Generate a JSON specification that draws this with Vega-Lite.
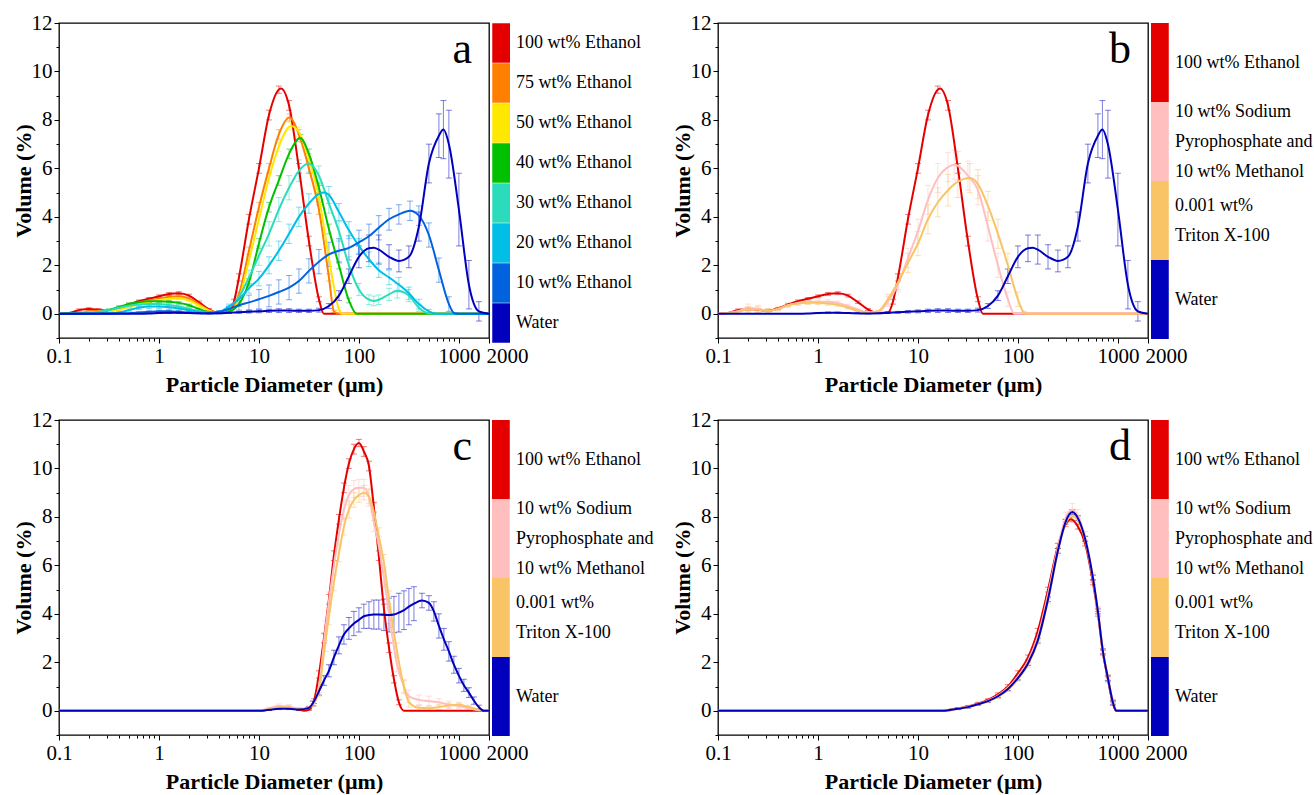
{
"$schema": "https://vega.github.io/schema/vega-lite/v6.json",
"padding": {"left": 11, "top": 11, "right": 2, "bottom": 2},
"background": "white",
"config": {
 "font": "Liberation Serif",
 "view": {"stroke": "#000", "strokeWidth": 1.3},
 "title": {"orient": "top", "anchor": "end", "frame": "group", "offset": -60, "baseline": "alphabetic", "dx": -17, "fontSize": 44, "font": "Liberation Serif", "fontWeight": "normal", "color": "#000"},
 "axis": {"domain": false, "grid": false, "tickColor": "#000", "tickWidth": 1, "labelColor": "#000", "labelFontSize": 21, "labelFont": "Liberation Serif", "titleFont": "Liberation Serif", "titleFontSize": 22, "titleFontWeight": "bold", "titleColor": "#000", "labelPadding": 2}
},
"bounds": "flush",
"columns": 2,
"spacing": {"row": 82, "column": 229},
"resolve": {"scale": {"x": "independent", "y": "independent", "color": "independent", "fill": "independent"}, "legend": {"fill": "independent"}},
"data": {"values": [
{"p":"a","s":"100 wt% Ethanol","x":0.1,"y":0},
{"p":"a","s":"100 wt% Ethanol","x":0.126,"y":0.03,"e":0.02},
{"p":"a","s":"100 wt% Ethanol","x":0.158,"y":0.15,"e":0.05},
{"p":"a","s":"100 wt% Ethanol","x":0.2,"y":0.2,"e":0.05},
{"p":"a","s":"100 wt% Ethanol","x":0.251,"y":0.17,"e":0.04},
{"p":"a","s":"100 wt% Ethanol","x":0.316,"y":0.12,"e":0.03},
{"p":"a","s":"100 wt% Ethanol","x":0.398,"y":0.22,"e":0.04},
{"p":"a","s":"100 wt% Ethanol","x":0.501,"y":0.38,"e":0.05},
{"p":"a","s":"100 wt% Ethanol","x":0.631,"y":0.52,"e":0.05},
{"p":"a","s":"100 wt% Ethanol","x":0.794,"y":0.62,"e":0.05},
{"p":"a","s":"100 wt% Ethanol","x":1,"y":0.72,"e":0.06},
{"p":"a","s":"100 wt% Ethanol","x":1.26,"y":0.82,"e":0.06},
{"p":"a","s":"100 wt% Ethanol","x":1.58,"y":0.85,"e":0.06},
{"p":"a","s":"100 wt% Ethanol","x":2,"y":0.75,"e":0.06},
{"p":"a","s":"100 wt% Ethanol","x":2.51,"y":0.48,"e":0.05},
{"p":"a","s":"100 wt% Ethanol","x":3.16,"y":0.18,"e":0.04},
{"p":"a","s":"100 wt% Ethanol","x":3.98,"y":0.03,"e":0.02},
{"p":"a","s":"100 wt% Ethanol","x":5.01,"y":0.05,"e":0.03},
{"p":"a","s":"100 wt% Ethanol","x":5.62,"y":0.5,"e":0.1},
{"p":"a","s":"100 wt% Ethanol","x":6.31,"y":1.5,"e":0.15},
{"p":"a","s":"100 wt% Ethanol","x":7.94,"y":3.9,"e":0.2},
{"p":"a","s":"100 wt% Ethanol","x":10,"y":6,"e":0.2},
{"p":"a","s":"100 wt% Ethanol","x":12.6,"y":8.2,"e":0.2},
{"p":"a","s":"100 wt% Ethanol","x":15.8,"y":9.25,"e":0.15},
{"p":"a","s":"100 wt% Ethanol","x":16.6,"y":9.3},
{"p":"a","s":"100 wt% Ethanol","x":20,"y":8.6,"e":0.2},
{"p":"a","s":"100 wt% Ethanol","x":25.1,"y":6,"e":0.2},
{"p":"a","s":"100 wt% Ethanol","x":31.6,"y":3,"e":0.2},
{"p":"a","s":"100 wt% Ethanol","x":39.8,"y":0.6,"e":0.1},
{"p":"a","s":"100 wt% Ethanol","x":44.7,"y":0},
{"p":"a","s":"100 wt% Ethanol","x":2000,"y":0},
{"p":"a","s":"75 wt% Ethanol","x":0.1,"y":0},
{"p":"a","s":"75 wt% Ethanol","x":0.158,"y":0.02},
{"p":"a","s":"75 wt% Ethanol","x":0.2,"y":0.1,"e":0.04},
{"p":"a","s":"75 wt% Ethanol","x":0.251,"y":0.12,"e":0.04},
{"p":"a","s":"75 wt% Ethanol","x":0.316,"y":0.12,"e":0.04},
{"p":"a","s":"75 wt% Ethanol","x":0.398,"y":0.2,"e":0.04},
{"p":"a","s":"75 wt% Ethanol","x":0.501,"y":0.33,"e":0.05},
{"p":"a","s":"75 wt% Ethanol","x":0.631,"y":0.45,"e":0.05},
{"p":"a","s":"75 wt% Ethanol","x":0.794,"y":0.55,"e":0.05},
{"p":"a","s":"75 wt% Ethanol","x":1,"y":0.62,"e":0.06},
{"p":"a","s":"75 wt% Ethanol","x":1.26,"y":0.7,"e":0.06},
{"p":"a","s":"75 wt% Ethanol","x":1.58,"y":0.72,"e":0.06},
{"p":"a","s":"75 wt% Ethanol","x":2,"y":0.62,"e":0.06},
{"p":"a","s":"75 wt% Ethanol","x":2.51,"y":0.4,"e":0.05},
{"p":"a","s":"75 wt% Ethanol","x":3.16,"y":0.15,"e":0.04},
{"p":"a","s":"75 wt% Ethanol","x":3.98,"y":0.03,"e":0.02},
{"p":"a","s":"75 wt% Ethanol","x":5.01,"y":0.06,"e":0.03},
{"p":"a","s":"75 wt% Ethanol","x":6.31,"y":0.8,"e":0.1},
{"p":"a","s":"75 wt% Ethanol","x":7.94,"y":2.6,"e":0.15},
{"p":"a","s":"75 wt% Ethanol","x":10,"y":4.4,"e":0.2},
{"p":"a","s":"75 wt% Ethanol","x":12.6,"y":6,"e":0.2},
{"p":"a","s":"75 wt% Ethanol","x":15.8,"y":7.4,"e":0.2},
{"p":"a","s":"75 wt% Ethanol","x":20.2,"y":8.1,"e":0.15},
{"p":"a","s":"75 wt% Ethanol","x":25.1,"y":7.4,"e":0.2},
{"p":"a","s":"75 wt% Ethanol","x":31.6,"y":6,"e":0.2},
{"p":"a","s":"75 wt% Ethanol","x":39.8,"y":4.3,"e":0.2},
{"p":"a","s":"75 wt% Ethanol","x":50.1,"y":1.5,"e":0.15},
{"p":"a","s":"75 wt% Ethanol","x":56.2,"y":0.1,"e":0.05},
{"p":"a","s":"75 wt% Ethanol","x":63.1,"y":0},
{"p":"a","s":"75 wt% Ethanol","x":2000,"y":0},
{"p":"a","s":"50 wt% Ethanol","x":0.1,"y":0},
{"p":"a","s":"50 wt% Ethanol","x":0.2,"y":0.05},
{"p":"a","s":"50 wt% Ethanol","x":0.251,"y":0.08,"e":0.03},
{"p":"a","s":"50 wt% Ethanol","x":0.316,"y":0.1,"e":0.03},
{"p":"a","s":"50 wt% Ethanol","x":0.398,"y":0.17,"e":0.04},
{"p":"a","s":"50 wt% Ethanol","x":0.501,"y":0.28,"e":0.04},
{"p":"a","s":"50 wt% Ethanol","x":0.631,"y":0.4,"e":0.05},
{"p":"a","s":"50 wt% Ethanol","x":0.794,"y":0.5,"e":0.05},
{"p":"a","s":"50 wt% Ethanol","x":1,"y":0.57,"e":0.05},
{"p":"a","s":"50 wt% Ethanol","x":1.26,"y":0.62,"e":0.05},
{"p":"a","s":"50 wt% Ethanol","x":1.58,"y":0.63,"e":0.05},
{"p":"a","s":"50 wt% Ethanol","x":2,"y":0.55,"e":0.05},
{"p":"a","s":"50 wt% Ethanol","x":2.51,"y":0.35,"e":0.05},
{"p":"a","s":"50 wt% Ethanol","x":3.16,"y":0.13,"e":0.04},
{"p":"a","s":"50 wt% Ethanol","x":3.98,"y":0.03,"e":0.02},
{"p":"a","s":"50 wt% Ethanol","x":5.01,"y":0.05,"e":0.03},
{"p":"a","s":"50 wt% Ethanol","x":6.31,"y":0.6,"e":0.1},
{"p":"a","s":"50 wt% Ethanol","x":7.94,"y":2.2,"e":0.15},
{"p":"a","s":"50 wt% Ethanol","x":10,"y":3.9,"e":0.2},
{"p":"a","s":"50 wt% Ethanol","x":12.6,"y":5.6,"e":0.2},
{"p":"a","s":"50 wt% Ethanol","x":15.8,"y":6.9,"e":0.2},
{"p":"a","s":"50 wt% Ethanol","x":20.9,"y":7.75,"e":0.15},
{"p":"a","s":"50 wt% Ethanol","x":25.1,"y":7.5,"e":0.2},
{"p":"a","s":"50 wt% Ethanol","x":31.6,"y":6.4,"e":0.2},
{"p":"a","s":"50 wt% Ethanol","x":39.8,"y":4.8,"e":0.2},
{"p":"a","s":"50 wt% Ethanol","x":50.1,"y":2.3,"e":0.15},
{"p":"a","s":"50 wt% Ethanol","x":63.1,"y":0.2,"e":0.05},
{"p":"a","s":"50 wt% Ethanol","x":67,"y":0},
{"p":"a","s":"50 wt% Ethanol","x":2000,"y":0},
{"p":"a","s":"40 wt% Ethanol","x":0.1,"y":0},
{"p":"a","s":"40 wt% Ethanol","x":0.251,"y":0.05},
{"p":"a","s":"40 wt% Ethanol","x":0.316,"y":0.15,"e":0.04},
{"p":"a","s":"40 wt% Ethanol","x":0.398,"y":0.28,"e":0.05},
{"p":"a","s":"40 wt% Ethanol","x":0.501,"y":0.4,"e":0.05},
{"p":"a","s":"40 wt% Ethanol","x":0.631,"y":0.48,"e":0.05},
{"p":"a","s":"40 wt% Ethanol","x":0.794,"y":0.52,"e":0.05},
{"p":"a","s":"40 wt% Ethanol","x":1,"y":0.52,"e":0.05},
{"p":"a","s":"40 wt% Ethanol","x":1.26,"y":0.5,"e":0.05},
{"p":"a","s":"40 wt% Ethanol","x":1.58,"y":0.45,"e":0.05},
{"p":"a","s":"40 wt% Ethanol","x":2,"y":0.35,"e":0.05},
{"p":"a","s":"40 wt% Ethanol","x":2.51,"y":0.2,"e":0.04},
{"p":"a","s":"40 wt% Ethanol","x":3.16,"y":0.07,"e":0.03},
{"p":"a","s":"40 wt% Ethanol","x":3.98,"y":0.04,"e":0.02},
{"p":"a","s":"40 wt% Ethanol","x":5.01,"y":0.1,"e":0.04},
{"p":"a","s":"40 wt% Ethanol","x":6.31,"y":0.4,"e":0.1},
{"p":"a","s":"40 wt% Ethanol","x":7.94,"y":1.3,"e":0.15},
{"p":"a","s":"40 wt% Ethanol","x":10,"y":2.9,"e":0.2},
{"p":"a","s":"40 wt% Ethanol","x":12.6,"y":4.4,"e":0.2},
{"p":"a","s":"40 wt% Ethanol","x":15.8,"y":5.5,"e":0.2},
{"p":"a","s":"40 wt% Ethanol","x":20,"y":6.6,"e":0.2},
{"p":"a","s":"40 wt% Ethanol","x":25.9,"y":7.25,"e":0.15},
{"p":"a","s":"40 wt% Ethanol","x":31.6,"y":6.6,"e":0.2},
{"p":"a","s":"40 wt% Ethanol","x":39.8,"y":5.2,"e":0.2},
{"p":"a","s":"40 wt% Ethanol","x":50.1,"y":3.5,"e":0.2},
{"p":"a","s":"40 wt% Ethanol","x":63.1,"y":2,"e":0.15},
{"p":"a","s":"40 wt% Ethanol","x":79.4,"y":0.55,"e":0.1},
{"p":"a","s":"40 wt% Ethanol","x":95,"y":0},
{"p":"a","s":"40 wt% Ethanol","x":2000,"y":0},
{"p":"a","s":"30 wt% Ethanol","x":0.1,"y":0},
{"p":"a","s":"30 wt% Ethanol","x":0.2,"y":0.02},
{"p":"a","s":"30 wt% Ethanol","x":0.251,"y":0.08,"e":0.04},
{"p":"a","s":"30 wt% Ethanol","x":0.316,"y":0.15,"e":0.05},
{"p":"a","s":"30 wt% Ethanol","x":0.398,"y":0.25,"e":0.06},
{"p":"a","s":"30 wt% Ethanol","x":0.501,"y":0.33,"e":0.07},
{"p":"a","s":"30 wt% Ethanol","x":0.631,"y":0.38,"e":0.08},
{"p":"a","s":"30 wt% Ethanol","x":0.794,"y":0.4,"e":0.08},
{"p":"a","s":"30 wt% Ethanol","x":1,"y":0.4,"e":0.08},
{"p":"a","s":"30 wt% Ethanol","x":1.26,"y":0.36,"e":0.08},
{"p":"a","s":"30 wt% Ethanol","x":1.58,"y":0.3,"e":0.07},
{"p":"a","s":"30 wt% Ethanol","x":2,"y":0.2,"e":0.06},
{"p":"a","s":"30 wt% Ethanol","x":2.51,"y":0.11,"e":0.05},
{"p":"a","s":"30 wt% Ethanol","x":3.16,"y":0.05,"e":0.03},
{"p":"a","s":"30 wt% Ethanol","x":3.98,"y":0.06,"e":0.03},
{"p":"a","s":"30 wt% Ethanol","x":5.01,"y":0.25,"e":0.08},
{"p":"a","s":"30 wt% Ethanol","x":6.31,"y":0.7,"e":0.15},
{"p":"a","s":"30 wt% Ethanol","x":7.94,"y":1.5,"e":0.3},
{"p":"a","s":"30 wt% Ethanol","x":10,"y":2.4,"e":0.4},
{"p":"a","s":"30 wt% Ethanol","x":12.6,"y":3.3,"e":0.5},
{"p":"a","s":"30 wt% Ethanol","x":15.8,"y":4.3,"e":0.5},
{"p":"a","s":"30 wt% Ethanol","x":20,"y":5.2,"e":0.5},
{"p":"a","s":"30 wt% Ethanol","x":25.1,"y":5.9,"e":0.45},
{"p":"a","s":"30 wt% Ethanol","x":31.3,"y":6.2,"e":0.4},
{"p":"a","s":"30 wt% Ethanol","x":39.8,"y":5.7,"e":0.4},
{"p":"a","s":"30 wt% Ethanol","x":50.1,"y":4.55,"e":0.4},
{"p":"a","s":"30 wt% Ethanol","x":63.1,"y":3.4,"e":0.4},
{"p":"a","s":"30 wt% Ethanol","x":79.4,"y":2,"e":0.35},
{"p":"a","s":"30 wt% Ethanol","x":100,"y":1,"e":0.25},
{"p":"a","s":"30 wt% Ethanol","x":126,"y":0.58,"e":0.2},
{"p":"a","s":"30 wt% Ethanol","x":141,"y":0.53,"e":0.2},
{"p":"a","s":"30 wt% Ethanol","x":158,"y":0.58,"e":0.2},
{"p":"a","s":"30 wt% Ethanol","x":200,"y":0.8,"e":0.25},
{"p":"a","s":"30 wt% Ethanol","x":242,"y":0.95,"e":0.3},
{"p":"a","s":"30 wt% Ethanol","x":316,"y":0.75,"e":0.25},
{"p":"a","s":"30 wt% Ethanol","x":398,"y":0.25,"e":0.15},
{"p":"a","s":"30 wt% Ethanol","x":501,"y":0.02,"e":0.03},
{"p":"a","s":"30 wt% Ethanol","x":631,"y":0},
{"p":"a","s":"30 wt% Ethanol","x":2000,"y":0},
{"p":"a","s":"20 wt% Ethanol","x":0.1,"y":0},
{"p":"a","s":"20 wt% Ethanol","x":0.316,"y":0.01},
{"p":"a","s":"20 wt% Ethanol","x":0.398,"y":0.05,"e":0.03},
{"p":"a","s":"20 wt% Ethanol","x":0.501,"y":0.15,"e":0.05},
{"p":"a","s":"20 wt% Ethanol","x":0.631,"y":0.25,"e":0.07},
{"p":"a","s":"20 wt% Ethanol","x":0.794,"y":0.3,"e":0.08},
{"p":"a","s":"20 wt% Ethanol","x":1,"y":0.3,"e":0.08},
{"p":"a","s":"20 wt% Ethanol","x":1.26,"y":0.27,"e":0.08},
{"p":"a","s":"20 wt% Ethanol","x":1.58,"y":0.22,"e":0.07},
{"p":"a","s":"20 wt% Ethanol","x":2,"y":0.15,"e":0.06},
{"p":"a","s":"20 wt% Ethanol","x":2.51,"y":0.08,"e":0.04},
{"p":"a","s":"20 wt% Ethanol","x":3.16,"y":0.04,"e":0.03},
{"p":"a","s":"20 wt% Ethanol","x":3.98,"y":0.08,"e":0.04},
{"p":"a","s":"20 wt% Ethanol","x":5.01,"y":0.3,"e":0.1},
{"p":"a","s":"20 wt% Ethanol","x":6.31,"y":0.6,"e":0.15},
{"p":"a","s":"20 wt% Ethanol","x":7.94,"y":1.05,"e":0.2},
{"p":"a","s":"20 wt% Ethanol","x":10,"y":1.45,"e":0.3},
{"p":"a","s":"20 wt% Ethanol","x":12.6,"y":2,"e":0.35},
{"p":"a","s":"20 wt% Ethanol","x":15.8,"y":2.6,"e":0.4},
{"p":"a","s":"20 wt% Ethanol","x":20,"y":3.3,"e":0.4},
{"p":"a","s":"20 wt% Ethanol","x":25.1,"y":4,"e":0.4},
{"p":"a","s":"20 wt% Ethanol","x":31.6,"y":4.55,"e":0.4},
{"p":"a","s":"20 wt% Ethanol","x":39.8,"y":4.95,"e":0.35},
{"p":"a","s":"20 wt% Ethanol","x":45,"y":5},
{"p":"a","s":"20 wt% Ethanol","x":50.1,"y":4.9,"e":0.35},
{"p":"a","s":"20 wt% Ethanol","x":63.1,"y":4.2,"e":0.35},
{"p":"a","s":"20 wt% Ethanol","x":79.4,"y":3.45,"e":0.35},
{"p":"a","s":"20 wt% Ethanol","x":100,"y":2.8,"e":0.3},
{"p":"a","s":"20 wt% Ethanol","x":126,"y":2.25,"e":0.3},
{"p":"a","s":"20 wt% Ethanol","x":158,"y":1.8,"e":0.3},
{"p":"a","s":"20 wt% Ethanol","x":200,"y":1.5,"e":0.3},
{"p":"a","s":"20 wt% Ethanol","x":251,"y":1.2,"e":0.3},
{"p":"a","s":"20 wt% Ethanol","x":316,"y":0.85,"e":0.25},
{"p":"a","s":"20 wt% Ethanol","x":398,"y":0.4,"e":0.2},
{"p":"a","s":"20 wt% Ethanol","x":501,"y":0.1,"e":0.08},
{"p":"a","s":"20 wt% Ethanol","x":600,"y":0},
{"p":"a","s":"20 wt% Ethanol","x":2000,"y":0},
{"p":"a","s":"10 wt% Ethanol","x":0.1,"y":0},
{"p":"a","s":"10 wt% Ethanol","x":0.501,"y":0.02},
{"p":"a","s":"10 wt% Ethanol","x":0.631,"y":0.05,"e":0.03},
{"p":"a","s":"10 wt% Ethanol","x":0.794,"y":0.08,"e":0.04},
{"p":"a","s":"10 wt% Ethanol","x":1,"y":0.1,"e":0.05},
{"p":"a","s":"10 wt% Ethanol","x":1.26,"y":0.1,"e":0.05},
{"p":"a","s":"10 wt% Ethanol","x":1.58,"y":0.08,"e":0.04},
{"p":"a","s":"10 wt% Ethanol","x":2,"y":0.05,"e":0.03},
{"p":"a","s":"10 wt% Ethanol","x":2.51,"y":0.03,"e":0.02},
{"p":"a","s":"10 wt% Ethanol","x":3.16,"y":0.03,"e":0.02},
{"p":"a","s":"10 wt% Ethanol","x":3.98,"y":0.08,"e":0.04},
{"p":"a","s":"10 wt% Ethanol","x":5.01,"y":0.2,"e":0.1},
{"p":"a","s":"10 wt% Ethanol","x":6.31,"y":0.35,"e":0.2},
{"p":"a","s":"10 wt% Ethanol","x":7.94,"y":0.47,"e":0.3},
{"p":"a","s":"10 wt% Ethanol","x":10,"y":0.6,"e":0.4},
{"p":"a","s":"10 wt% Ethanol","x":12.6,"y":0.74,"e":0.45},
{"p":"a","s":"10 wt% Ethanol","x":15.8,"y":0.9,"e":0.5},
{"p":"a","s":"10 wt% Ethanol","x":20,"y":1.08,"e":0.5},
{"p":"a","s":"10 wt% Ethanol","x":25.1,"y":1.35,"e":0.5},
{"p":"a","s":"10 wt% Ethanol","x":31.6,"y":1.77,"e":0.5},
{"p":"a","s":"10 wt% Ethanol","x":39.8,"y":2.15,"e":0.5},
{"p":"a","s":"10 wt% Ethanol","x":50.1,"y":2.45,"e":0.5},
{"p":"a","s":"10 wt% Ethanol","x":63.1,"y":2.6,"e":0.5},
{"p":"a","s":"10 wt% Ethanol","x":79.4,"y":2.72,"e":0.5},
{"p":"a","s":"10 wt% Ethanol","x":100,"y":2.95,"e":0.5},
{"p":"a","s":"10 wt% Ethanol","x":126,"y":3.2,"e":0.5},
{"p":"a","s":"10 wt% Ethanol","x":158,"y":3.55,"e":0.5},
{"p":"a","s":"10 wt% Ethanol","x":200,"y":3.9,"e":0.45},
{"p":"a","s":"10 wt% Ethanol","x":251,"y":4.1,"e":0.4},
{"p":"a","s":"10 wt% Ethanol","x":324,"y":4.25,"e":0.4},
{"p":"a","s":"10 wt% Ethanol","x":398,"y":4.05,"e":0.4},
{"p":"a","s":"10 wt% Ethanol","x":501,"y":3.25,"e":0.5},
{"p":"a","s":"10 wt% Ethanol","x":631,"y":1.8,"e":0.5},
{"p":"a","s":"10 wt% Ethanol","x":794,"y":0.4,"e":0.3},
{"p":"a","s":"10 wt% Ethanol","x":900,"y":0.02},
{"p":"a","s":"10 wt% Ethanol","x":1000,"y":0},
{"p":"a","s":"10 wt% Ethanol","x":2000,"y":0},
{"p":"a","s":"Water","x":0.1,"y":0},
{"p":"a","s":"Water","x":0.631,"y":0},
{"p":"a","s":"Water","x":0.794,"y":0.01},
{"p":"a","s":"Water","x":1,"y":0.03,"e":0.02},
{"p":"a","s":"Water","x":1.26,"y":0.04,"e":0.03},
{"p":"a","s":"Water","x":1.58,"y":0.04,"e":0.03},
{"p":"a","s":"Water","x":2,"y":0.03,"e":0.02},
{"p":"a","s":"Water","x":2.51,"y":0.02,"e":0.02},
{"p":"a","s":"Water","x":3.16,"y":0.01,"e":0.02},
{"p":"a","s":"Water","x":3.98,"y":0.02,"e":0.02},
{"p":"a","s":"Water","x":5.01,"y":0.04,"e":0.03},
{"p":"a","s":"Water","x":6.31,"y":0.06,"e":0.04},
{"p":"a","s":"Water","x":7.94,"y":0.08,"e":0.05},
{"p":"a","s":"Water","x":10,"y":0.1,"e":0.06},
{"p":"a","s":"Water","x":12.6,"y":0.12,"e":0.07},
{"p":"a","s":"Water","x":15.8,"y":0.13,"e":0.08},
{"p":"a","s":"Water","x":20,"y":0.13,"e":0.08},
{"p":"a","s":"Water","x":25.1,"y":0.12,"e":0.07},
{"p":"a","s":"Water","x":31.6,"y":0.12,"e":0.07},
{"p":"a","s":"Water","x":39.8,"y":0.15,"e":0.08},
{"p":"a","s":"Water","x":50.1,"y":0.32,"e":0.1},
{"p":"a","s":"Water","x":63.1,"y":0.75,"e":0.2},
{"p":"a","s":"Water","x":79.4,"y":1.55,"e":0.3},
{"p":"a","s":"Water","x":100,"y":2.35,"e":0.45},
{"p":"a","s":"Water","x":126,"y":2.7,"e":0.55},
{"p":"a","s":"Water","x":140,"y":2.72},
{"p":"a","s":"Water","x":158,"y":2.65,"e":0.6},
{"p":"a","s":"Water","x":200,"y":2.35,"e":0.5},
{"p":"a","s":"Water","x":251,"y":2.18,"e":0.45},
{"p":"a","s":"Water","x":316,"y":2.35,"e":0.45},
{"p":"a","s":"Water","x":398,"y":3.6,"e":0.6},
{"p":"a","s":"Water","x":501,"y":6.2,"e":0.8},
{"p":"a","s":"Water","x":631,"y":7.35,"e":0.9},
{"p":"a","s":"Water","x":700,"y":7.6,"e":1.2},
{"p":"a","s":"Water","x":794,"y":7,"e":1.4},
{"p":"a","s":"Water","x":1000,"y":4.3,"e":1.5},
{"p":"a","s":"Water","x":1259,"y":1.2,"e":1},
{"p":"a","s":"Water","x":1585,"y":0.1,"e":0.4},
{"p":"a","s":"Water","x":2000,"y":0},

{"p":"b","s":"100 wt% Ethanol","x":0.1,"y":0},
{"p":"b","s":"100 wt% Ethanol","x":0.126,"y":0.03,"e":0.02},
{"p":"b","s":"100 wt% Ethanol","x":0.158,"y":0.15,"e":0.05},
{"p":"b","s":"100 wt% Ethanol","x":0.2,"y":0.2,"e":0.05},
{"p":"b","s":"100 wt% Ethanol","x":0.251,"y":0.17,"e":0.04},
{"p":"b","s":"100 wt% Ethanol","x":0.316,"y":0.12,"e":0.03},
{"p":"b","s":"100 wt% Ethanol","x":0.398,"y":0.22,"e":0.04},
{"p":"b","s":"100 wt% Ethanol","x":0.501,"y":0.38,"e":0.05},
{"p":"b","s":"100 wt% Ethanol","x":0.631,"y":0.52,"e":0.05},
{"p":"b","s":"100 wt% Ethanol","x":0.794,"y":0.62,"e":0.05},
{"p":"b","s":"100 wt% Ethanol","x":1,"y":0.72,"e":0.06},
{"p":"b","s":"100 wt% Ethanol","x":1.26,"y":0.82,"e":0.06},
{"p":"b","s":"100 wt% Ethanol","x":1.58,"y":0.85,"e":0.06},
{"p":"b","s":"100 wt% Ethanol","x":2,"y":0.75,"e":0.06},
{"p":"b","s":"100 wt% Ethanol","x":2.51,"y":0.48,"e":0.05},
{"p":"b","s":"100 wt% Ethanol","x":3.16,"y":0.18,"e":0.04},
{"p":"b","s":"100 wt% Ethanol","x":3.98,"y":0.03,"e":0.02},
{"p":"b","s":"100 wt% Ethanol","x":5.01,"y":0.05,"e":0.03},
{"p":"b","s":"100 wt% Ethanol","x":5.62,"y":0.5,"e":0.1},
{"p":"b","s":"100 wt% Ethanol","x":6.31,"y":1.5,"e":0.15},
{"p":"b","s":"100 wt% Ethanol","x":7.94,"y":3.9,"e":0.2},
{"p":"b","s":"100 wt% Ethanol","x":10,"y":6,"e":0.2},
{"p":"b","s":"100 wt% Ethanol","x":12.6,"y":8.2,"e":0.2},
{"p":"b","s":"100 wt% Ethanol","x":15.8,"y":9.25,"e":0.15},
{"p":"b","s":"100 wt% Ethanol","x":16.6,"y":9.3},
{"p":"b","s":"100 wt% Ethanol","x":20,"y":8.6,"e":0.2},
{"p":"b","s":"100 wt% Ethanol","x":25.1,"y":6,"e":0.2},
{"p":"b","s":"100 wt% Ethanol","x":31.6,"y":3,"e":0.2},
{"p":"b","s":"100 wt% Ethanol","x":39.8,"y":0.6,"e":0.1},
{"p":"b","s":"100 wt% Ethanol","x":44.7,"y":0},
{"p":"b","s":"100 wt% Ethanol","x":2000,"y":0},
{"p":"b","s":"10 wt% Sodium Pyrophosphate and 10 wt% Methanol","x":0.1,"y":0},
{"p":"b","s":"10 wt% Sodium Pyrophosphate and 10 wt% Methanol","x":0.158,"y":0.1,"e":0.1},
{"p":"b","s":"10 wt% Sodium Pyrophosphate and 10 wt% Methanol","x":0.2,"y":0.25,"e":0.15},
{"p":"b","s":"10 wt% Sodium Pyrophosphate and 10 wt% Methanol","x":0.251,"y":0.2,"e":0.15},
{"p":"b","s":"10 wt% Sodium Pyrophosphate and 10 wt% Methanol","x":0.316,"y":0.12,"e":0.1},
{"p":"b","s":"10 wt% Sodium Pyrophosphate and 10 wt% Methanol","x":0.398,"y":0.2,"e":0.08},
{"p":"b","s":"10 wt% Sodium Pyrophosphate and 10 wt% Methanol","x":0.501,"y":0.35,"e":0.08},
{"p":"b","s":"10 wt% Sodium Pyrophosphate and 10 wt% Methanol","x":0.631,"y":0.45,"e":0.08},
{"p":"b","s":"10 wt% Sodium Pyrophosphate and 10 wt% Methanol","x":0.794,"y":0.5,"e":0.08},
{"p":"b","s":"10 wt% Sodium Pyrophosphate and 10 wt% Methanol","x":1,"y":0.5,"e":0.08},
{"p":"b","s":"10 wt% Sodium Pyrophosphate and 10 wt% Methanol","x":1.26,"y":0.5,"e":0.08},
{"p":"b","s":"10 wt% Sodium Pyrophosphate and 10 wt% Methanol","x":1.58,"y":0.45,"e":0.08},
{"p":"b","s":"10 wt% Sodium Pyrophosphate and 10 wt% Methanol","x":2,"y":0.32,"e":0.07},
{"p":"b","s":"10 wt% Sodium Pyrophosphate and 10 wt% Methanol","x":2.51,"y":0.17,"e":0.05},
{"p":"b","s":"10 wt% Sodium Pyrophosphate and 10 wt% Methanol","x":3.16,"y":0.05,"e":0.04},
{"p":"b","s":"10 wt% Sodium Pyrophosphate and 10 wt% Methanol","x":3.98,"y":0.08,"e":0.05},
{"p":"b","s":"10 wt% Sodium Pyrophosphate and 10 wt% Methanol","x":5.01,"y":0.5,"e":0.2},
{"p":"b","s":"10 wt% Sodium Pyrophosphate and 10 wt% Methanol","x":6.31,"y":1.2,"e":0.3},
{"p":"b","s":"10 wt% Sodium Pyrophosphate and 10 wt% Methanol","x":7.94,"y":2.3,"e":0.4},
{"p":"b","s":"10 wt% Sodium Pyrophosphate and 10 wt% Methanol","x":10,"y":3.4,"e":0.5},
{"p":"b","s":"10 wt% Sodium Pyrophosphate and 10 wt% Methanol","x":12.6,"y":4.7,"e":0.6},
{"p":"b","s":"10 wt% Sodium Pyrophosphate and 10 wt% Methanol","x":15.8,"y":5.6,"e":0.6},
{"p":"b","s":"10 wt% Sodium Pyrophosphate and 10 wt% Methanol","x":20,"y":6.05,"e":0.6},
{"p":"b","s":"10 wt% Sodium Pyrophosphate and 10 wt% Methanol","x":23,"y":6.15,"e":0.6},
{"p":"b","s":"10 wt% Sodium Pyrophosphate and 10 wt% Methanol","x":25.1,"y":6.1,"e":0.6},
{"p":"b","s":"10 wt% Sodium Pyrophosphate and 10 wt% Methanol","x":31.6,"y":5.7,"e":0.6},
{"p":"b","s":"10 wt% Sodium Pyrophosphate and 10 wt% Methanol","x":39.8,"y":5.1,"e":0.6},
{"p":"b","s":"10 wt% Sodium Pyrophosphate and 10 wt% Methanol","x":50.1,"y":3.6,"e":0.6},
{"p":"b","s":"10 wt% Sodium Pyrophosphate and 10 wt% Methanol","x":63.1,"y":2,"e":0.5},
{"p":"b","s":"10 wt% Sodium Pyrophosphate and 10 wt% Methanol","x":79.4,"y":0.6,"e":0.3},
{"p":"b","s":"10 wt% Sodium Pyrophosphate and 10 wt% Methanol","x":92,"y":0},
{"p":"b","s":"10 wt% Sodium Pyrophosphate and 10 wt% Methanol","x":2000,"y":0},
{"p":"b","s":"0.001 wt% Triton X-100","x":0.1,"y":0},
{"p":"b","s":"0.001 wt% Triton X-100","x":0.158,"y":0.08,"e":0.08},
{"p":"b","s":"0.001 wt% Triton X-100","x":0.2,"y":0.18,"e":0.12},
{"p":"b","s":"0.001 wt% Triton X-100","x":0.251,"y":0.17,"e":0.12},
{"p":"b","s":"0.001 wt% Triton X-100","x":0.316,"y":0.12,"e":0.08},
{"p":"b","s":"0.001 wt% Triton X-100","x":0.398,"y":0.2,"e":0.07},
{"p":"b","s":"0.001 wt% Triton X-100","x":0.501,"y":0.35,"e":0.07},
{"p":"b","s":"0.001 wt% Triton X-100","x":0.631,"y":0.42,"e":0.07},
{"p":"b","s":"0.001 wt% Triton X-100","x":0.794,"y":0.45,"e":0.07},
{"p":"b","s":"0.001 wt% Triton X-100","x":1,"y":0.45,"e":0.07},
{"p":"b","s":"0.001 wt% Triton X-100","x":1.26,"y":0.42,"e":0.07},
{"p":"b","s":"0.001 wt% Triton X-100","x":1.58,"y":0.37,"e":0.06},
{"p":"b","s":"0.001 wt% Triton X-100","x":2,"y":0.25,"e":0.05},
{"p":"b","s":"0.001 wt% Triton X-100","x":2.51,"y":0.12,"e":0.04},
{"p":"b","s":"0.001 wt% Triton X-100","x":3.16,"y":0.04,"e":0.03},
{"p":"b","s":"0.001 wt% Triton X-100","x":3.98,"y":0.1,"e":0.05},
{"p":"b","s":"0.001 wt% Triton X-100","x":5.01,"y":0.6,"e":0.2},
{"p":"b","s":"0.001 wt% Triton X-100","x":6.31,"y":1.3,"e":0.3},
{"p":"b","s":"0.001 wt% Triton X-100","x":7.94,"y":2.1,"e":0.4},
{"p":"b","s":"0.001 wt% Triton X-100","x":10,"y":2.9,"e":0.5},
{"p":"b","s":"0.001 wt% Triton X-100","x":12.6,"y":3.9,"e":0.6},
{"p":"b","s":"0.001 wt% Triton X-100","x":15.8,"y":4.6,"e":0.6},
{"p":"b","s":"0.001 wt% Triton X-100","x":20,"y":5.1,"e":0.65},
{"p":"b","s":"0.001 wt% Triton X-100","x":25.1,"y":5.45,"e":0.65},
{"p":"b","s":"0.001 wt% Triton X-100","x":33,"y":5.6,"e":0.6},
{"p":"b","s":"0.001 wt% Triton X-100","x":39.8,"y":5.35,"e":0.6},
{"p":"b","s":"0.001 wt% Triton X-100","x":50.1,"y":4.45,"e":0.6},
{"p":"b","s":"0.001 wt% Triton X-100","x":63.1,"y":3.3,"e":0.6},
{"p":"b","s":"0.001 wt% Triton X-100","x":79.4,"y":2,"e":0.5},
{"p":"b","s":"0.001 wt% Triton X-100","x":100,"y":0.6,"e":0.3},
{"p":"b","s":"0.001 wt% Triton X-100","x":115,"y":0.05,"e":0.05},
{"p":"b","s":"0.001 wt% Triton X-100","x":126,"y":0},
{"p":"b","s":"0.001 wt% Triton X-100","x":2000,"y":0},
{"p":"b","s":"Water","x":0.1,"y":0},
{"p":"b","s":"Water","x":0.631,"y":0},
{"p":"b","s":"Water","x":0.794,"y":0.01},
{"p":"b","s":"Water","x":1,"y":0.03,"e":0.02},
{"p":"b","s":"Water","x":1.26,"y":0.04,"e":0.03},
{"p":"b","s":"Water","x":1.58,"y":0.04,"e":0.03},
{"p":"b","s":"Water","x":2,"y":0.03,"e":0.02},
{"p":"b","s":"Water","x":2.51,"y":0.02,"e":0.02},
{"p":"b","s":"Water","x":3.16,"y":0.01,"e":0.02},
{"p":"b","s":"Water","x":3.98,"y":0.02,"e":0.02},
{"p":"b","s":"Water","x":5.01,"y":0.04,"e":0.03},
{"p":"b","s":"Water","x":6.31,"y":0.06,"e":0.04},
{"p":"b","s":"Water","x":7.94,"y":0.08,"e":0.05},
{"p":"b","s":"Water","x":10,"y":0.1,"e":0.06},
{"p":"b","s":"Water","x":12.6,"y":0.12,"e":0.07},
{"p":"b","s":"Water","x":15.8,"y":0.13,"e":0.08},
{"p":"b","s":"Water","x":20,"y":0.13,"e":0.08},
{"p":"b","s":"Water","x":25.1,"y":0.12,"e":0.07},
{"p":"b","s":"Water","x":31.6,"y":0.12,"e":0.07},
{"p":"b","s":"Water","x":39.8,"y":0.15,"e":0.08},
{"p":"b","s":"Water","x":50.1,"y":0.32,"e":0.1},
{"p":"b","s":"Water","x":63.1,"y":0.75,"e":0.2},
{"p":"b","s":"Water","x":79.4,"y":1.55,"e":0.3},
{"p":"b","s":"Water","x":100,"y":2.35,"e":0.45},
{"p":"b","s":"Water","x":126,"y":2.7,"e":0.55},
{"p":"b","s":"Water","x":140,"y":2.72},
{"p":"b","s":"Water","x":158,"y":2.65,"e":0.6},
{"p":"b","s":"Water","x":200,"y":2.35,"e":0.5},
{"p":"b","s":"Water","x":251,"y":2.18,"e":0.45},
{"p":"b","s":"Water","x":316,"y":2.35,"e":0.45},
{"p":"b","s":"Water","x":398,"y":3.6,"e":0.6},
{"p":"b","s":"Water","x":501,"y":6.2,"e":0.8},
{"p":"b","s":"Water","x":631,"y":7.35,"e":0.9},
{"p":"b","s":"Water","x":700,"y":7.6,"e":1.2},
{"p":"b","s":"Water","x":794,"y":7,"e":1.4},
{"p":"b","s":"Water","x":1000,"y":4.3,"e":1.5},
{"p":"b","s":"Water","x":1259,"y":1.2,"e":1},
{"p":"b","s":"Water","x":1585,"y":0.1,"e":0.4},
{"p":"b","s":"Water","x":2000,"y":0},

{"p":"c","s":"100 wt% Ethanol","x":0.1,"y":0},
{"p":"c","s":"100 wt% Ethanol","x":10,"y":0},
{"p":"c","s":"100 wt% Ethanol","x":12.6,"y":0.05,"e":0.03},
{"p":"c","s":"100 wt% Ethanol","x":15.8,"y":0.12,"e":0.04},
{"p":"c","s":"100 wt% Ethanol","x":20,"y":0.12,"e":0.04},
{"p":"c","s":"100 wt% Ethanol","x":25.1,"y":0.05,"e":0.03},
{"p":"c","s":"100 wt% Ethanol","x":28.2,"y":0},
{"p":"c","s":"100 wt% Ethanol","x":31.6,"y":0.05,"e":0.04},
{"p":"c","s":"100 wt% Ethanol","x":35.5,"y":0.4,"e":0.1},
{"p":"c","s":"100 wt% Ethanol","x":39.8,"y":1.5,"e":0.15},
{"p":"c","s":"100 wt% Ethanol","x":44.7,"y":3,"e":0.2},
{"p":"c","s":"100 wt% Ethanol","x":50.1,"y":4.6,"e":0.2},
{"p":"c","s":"100 wt% Ethanol","x":56.2,"y":6.4,"e":0.2},
{"p":"c","s":"100 wt% Ethanol","x":63.1,"y":7.9,"e":0.2},
{"p":"c","s":"100 wt% Ethanol","x":70.8,"y":9.2,"e":0.2},
{"p":"c","s":"100 wt% Ethanol","x":79.4,"y":10.2,"e":0.2},
{"p":"c","s":"100 wt% Ethanol","x":89.1,"y":10.8,"e":0.2},
{"p":"c","s":"100 wt% Ethanol","x":100,"y":11.05,"e":0.15},
{"p":"c","s":"100 wt% Ethanol","x":112,"y":10.7,"e":0.2},
{"p":"c","s":"100 wt% Ethanol","x":126,"y":10.1,"e":0.2},
{"p":"c","s":"100 wt% Ethanol","x":141,"y":8.4,"e":0.2},
{"p":"c","s":"100 wt% Ethanol","x":158,"y":6.4,"e":0.2},
{"p":"c","s":"100 wt% Ethanol","x":178,"y":4.2,"e":0.2},
{"p":"c","s":"100 wt% Ethanol","x":200,"y":2.6,"e":0.2},
{"p":"c","s":"100 wt% Ethanol","x":224,"y":1.3,"e":0.15},
{"p":"c","s":"100 wt% Ethanol","x":251,"y":0.35,"e":0.1},
{"p":"c","s":"100 wt% Ethanol","x":282,"y":0},
{"p":"c","s":"100 wt% Ethanol","x":2000,"y":0},
{"p":"c","s":"10 wt% Sodium Pyrophosphate and 10 wt% Methanol","x":0.1,"y":0},
{"p":"c","s":"10 wt% Sodium Pyrophosphate and 10 wt% Methanol","x":10,"y":0},
{"p":"c","s":"10 wt% Sodium Pyrophosphate and 10 wt% Methanol","x":12.6,"y":0.1,"e":0.05},
{"p":"c","s":"10 wt% Sodium Pyrophosphate and 10 wt% Methanol","x":15.8,"y":0.2,"e":0.08},
{"p":"c","s":"10 wt% Sodium Pyrophosphate and 10 wt% Methanol","x":20,"y":0.18,"e":0.08},
{"p":"c","s":"10 wt% Sodium Pyrophosphate and 10 wt% Methanol","x":25.1,"y":0.08,"e":0.05},
{"p":"c","s":"10 wt% Sodium Pyrophosphate and 10 wt% Methanol","x":31.6,"y":0.15,"e":0.08},
{"p":"c","s":"10 wt% Sodium Pyrophosphate and 10 wt% Methanol","x":35.5,"y":0.35,"e":0.15},
{"p":"c","s":"10 wt% Sodium Pyrophosphate and 10 wt% Methanol","x":39.8,"y":1,"e":0.25},
{"p":"c","s":"10 wt% Sodium Pyrophosphate and 10 wt% Methanol","x":46,"y":3.3,"e":0.4},
{"p":"c","s":"10 wt% Sodium Pyrophosphate and 10 wt% Methanol","x":50.1,"y":4.5,"e":0.4},
{"p":"c","s":"10 wt% Sodium Pyrophosphate and 10 wt% Methanol","x":56.2,"y":6,"e":0.4},
{"p":"c","s":"10 wt% Sodium Pyrophosphate and 10 wt% Methanol","x":63.1,"y":7.3,"e":0.4},
{"p":"c","s":"10 wt% Sodium Pyrophosphate and 10 wt% Methanol","x":70.8,"y":8.3,"e":0.4},
{"p":"c","s":"10 wt% Sodium Pyrophosphate and 10 wt% Methanol","x":79.4,"y":8.9,"e":0.4},
{"p":"c","s":"10 wt% Sodium Pyrophosphate and 10 wt% Methanol","x":89.1,"y":9.15,"e":0.35},
{"p":"c","s":"10 wt% Sodium Pyrophosphate and 10 wt% Methanol","x":100,"y":9.2,"e":0.35},
{"p":"c","s":"10 wt% Sodium Pyrophosphate and 10 wt% Methanol","x":112,"y":9.2,"e":0.35},
{"p":"c","s":"10 wt% Sodium Pyrophosphate and 10 wt% Methanol","x":126,"y":8.8,"e":0.35},
{"p":"c","s":"10 wt% Sodium Pyrophosphate and 10 wt% Methanol","x":141,"y":7.8,"e":0.4},
{"p":"c","s":"10 wt% Sodium Pyrophosphate and 10 wt% Methanol","x":158,"y":6.8,"e":0.4},
{"p":"c","s":"10 wt% Sodium Pyrophosphate and 10 wt% Methanol","x":178,"y":5.5,"e":0.4},
{"p":"c","s":"10 wt% Sodium Pyrophosphate and 10 wt% Methanol","x":200,"y":4,"e":0.4},
{"p":"c","s":"10 wt% Sodium Pyrophosphate and 10 wt% Methanol","x":239,"y":1.96,"e":0.35},
{"p":"c","s":"10 wt% Sodium Pyrophosphate and 10 wt% Methanol","x":282,"y":1,"e":0.3},
{"p":"c","s":"10 wt% Sodium Pyrophosphate and 10 wt% Methanol","x":316,"y":0.6,"e":0.25},
{"p":"c","s":"10 wt% Sodium Pyrophosphate and 10 wt% Methanol","x":398,"y":0.45,"e":0.2},
{"p":"c","s":"10 wt% Sodium Pyrophosphate and 10 wt% Methanol","x":501,"y":0.4,"e":0.2},
{"p":"c","s":"10 wt% Sodium Pyrophosphate and 10 wt% Methanol","x":631,"y":0.35,"e":0.15},
{"p":"c","s":"10 wt% Sodium Pyrophosphate and 10 wt% Methanol","x":794,"y":0.25,"e":0.15},
{"p":"c","s":"10 wt% Sodium Pyrophosphate and 10 wt% Methanol","x":1000,"y":0.2,"e":0.1},
{"p":"c","s":"10 wt% Sodium Pyrophosphate and 10 wt% Methanol","x":1259,"y":0.1,"e":0.08},
{"p":"c","s":"10 wt% Sodium Pyrophosphate and 10 wt% Methanol","x":1585,"y":0.02,"e":0.03},
{"p":"c","s":"10 wt% Sodium Pyrophosphate and 10 wt% Methanol","x":2000,"y":0},
{"p":"c","s":"0.001 wt% Triton X-100","x":0.1,"y":0},
{"p":"c","s":"0.001 wt% Triton X-100","x":10,"y":0},
{"p":"c","s":"0.001 wt% Triton X-100","x":12.6,"y":0.07,"e":0.04},
{"p":"c","s":"0.001 wt% Triton X-100","x":15.8,"y":0.15,"e":0.06},
{"p":"c","s":"0.001 wt% Triton X-100","x":20,"y":0.15,"e":0.06},
{"p":"c","s":"0.001 wt% Triton X-100","x":25.1,"y":0.07,"e":0.04},
{"p":"c","s":"0.001 wt% Triton X-100","x":31.6,"y":0.12,"e":0.06},
{"p":"c","s":"0.001 wt% Triton X-100","x":35.5,"y":0.3,"e":0.1},
{"p":"c","s":"0.001 wt% Triton X-100","x":39.8,"y":0.8,"e":0.2},
{"p":"c","s":"0.001 wt% Triton X-100","x":46,"y":2.8,"e":0.35},
{"p":"c","s":"0.001 wt% Triton X-100","x":50.1,"y":3.9,"e":0.35},
{"p":"c","s":"0.001 wt% Triton X-100","x":56.2,"y":5.3,"e":0.35},
{"p":"c","s":"0.001 wt% Triton X-100","x":63.1,"y":6.5,"e":0.35},
{"p":"c","s":"0.001 wt% Triton X-100","x":70.8,"y":7.6,"e":0.35},
{"p":"c","s":"0.001 wt% Triton X-100","x":79.4,"y":8.3,"e":0.35},
{"p":"c","s":"0.001 wt% Triton X-100","x":89.1,"y":8.7,"e":0.3},
{"p":"c","s":"0.001 wt% Triton X-100","x":100,"y":8.9,"e":0.3},
{"p":"c","s":"0.001 wt% Triton X-100","x":112,"y":9,"e":0.3},
{"p":"c","s":"0.001 wt% Triton X-100","x":126,"y":8.85,"e":0.3},
{"p":"c","s":"0.001 wt% Triton X-100","x":141,"y":8.2,"e":0.35},
{"p":"c","s":"0.001 wt% Triton X-100","x":158,"y":7.2,"e":0.35},
{"p":"c","s":"0.001 wt% Triton X-100","x":178,"y":6.1,"e":0.35},
{"p":"c","s":"0.001 wt% Triton X-100","x":200,"y":4.6,"e":0.35},
{"p":"c","s":"0.001 wt% Triton X-100","x":239,"y":2.5,"e":0.3},
{"p":"c","s":"0.001 wt% Triton X-100","x":282,"y":1,"e":0.25},
{"p":"c","s":"0.001 wt% Triton X-100","x":316,"y":0.35,"e":0.2},
{"p":"c","s":"0.001 wt% Triton X-100","x":398,"y":0.12,"e":0.1},
{"p":"c","s":"0.001 wt% Triton X-100","x":501,"y":0.1,"e":0.1},
{"p":"c","s":"0.001 wt% Triton X-100","x":631,"y":0.15,"e":0.1},
{"p":"c","s":"0.001 wt% Triton X-100","x":794,"y":0.22,"e":0.1},
{"p":"c","s":"0.001 wt% Triton X-100","x":1000,"y":0.25,"e":0.1},
{"p":"c","s":"0.001 wt% Triton X-100","x":1259,"y":0.15,"e":0.08},
{"p":"c","s":"0.001 wt% Triton X-100","x":1585,"y":0.05,"e":0.04},
{"p":"c","s":"0.001 wt% Triton X-100","x":2000,"y":0},
{"p":"c","s":"Water","x":0.1,"y":0},
{"p":"c","s":"Water","x":10,"y":0},
{"p":"c","s":"Water","x":12.6,"y":0.04,"e":0.02},
{"p":"c","s":"Water","x":15.8,"y":0.08,"e":0.03},
{"p":"c","s":"Water","x":20,"y":0.08,"e":0.03},
{"p":"c","s":"Water","x":25.1,"y":0.05,"e":0.03},
{"p":"c","s":"Water","x":31.6,"y":0.12,"e":0.05},
{"p":"c","s":"Water","x":34.5,"y":0.3,"e":0.1},
{"p":"c","s":"Water","x":39.8,"y":0.8,"e":0.15},
{"p":"c","s":"Water","x":44.7,"y":1.25,"e":0.2},
{"p":"c","s":"Water","x":50.1,"y":1.65,"e":0.25},
{"p":"c","s":"Water","x":56.2,"y":2.2,"e":0.3},
{"p":"c","s":"Water","x":63.1,"y":2.7,"e":0.35},
{"p":"c","s":"Water","x":70.8,"y":3.15,"e":0.4},
{"p":"c","s":"Water","x":79.4,"y":3.4,"e":0.45},
{"p":"c","s":"Water","x":89.1,"y":3.6,"e":0.5},
{"p":"c","s":"Water","x":100,"y":3.75,"e":0.5},
{"p":"c","s":"Water","x":112,"y":3.9,"e":0.5},
{"p":"c","s":"Water","x":126,"y":3.95,"e":0.55},
{"p":"c","s":"Water","x":141,"y":3.97,"e":0.6},
{"p":"c","s":"Water","x":158,"y":3.97,"e":0.6},
{"p":"c","s":"Water","x":178,"y":3.96,"e":0.65},
{"p":"c","s":"Water","x":200,"y":3.95,"e":0.7},
{"p":"c","s":"Water","x":224,"y":3.97,"e":0.75},
{"p":"c","s":"Water","x":251,"y":4.05,"e":0.8},
{"p":"c","s":"Water","x":282,"y":4.15,"e":0.8},
{"p":"c","s":"Water","x":316,"y":4.3,"e":0.75},
{"p":"c","s":"Water","x":355,"y":4.42,"e":0.7},
{"p":"c","s":"Water","x":427,"y":4.55,"e":0.3},
{"p":"c","s":"Water","x":501,"y":4.45,"e":0.3},
{"p":"c","s":"Water","x":562,"y":4.1,"e":0.4},
{"p":"c","s":"Water","x":631,"y":3.5,"e":0.5},
{"p":"c","s":"Water","x":708,"y":2.95,"e":0.45},
{"p":"c","s":"Water","x":794,"y":2.45,"e":0.4},
{"p":"c","s":"Water","x":891,"y":1.9,"e":0.35},
{"p":"c","s":"Water","x":1000,"y":1.45,"e":0.3},
{"p":"c","s":"Water","x":1122,"y":1.05,"e":0.25},
{"p":"c","s":"Water","x":1259,"y":0.75,"e":0.2},
{"p":"c","s":"Water","x":1413,"y":0.42,"e":0.15},
{"p":"c","s":"Water","x":1585,"y":0.15,"e":0.08},
{"p":"c","s":"Water","x":1778,"y":0},
{"p":"c","s":"Water","x":2000,"y":0},

{"p":"d","s":"100 wt% Ethanol","x":0.1,"y":0},
{"p":"d","s":"100 wt% Ethanol","x":17.8,"y":0},
{"p":"d","s":"100 wt% Ethanol","x":20,"y":0.03,"e":0.02},
{"p":"d","s":"100 wt% Ethanol","x":25.1,"y":0.1,"e":0.03},
{"p":"d","s":"100 wt% Ethanol","x":31.6,"y":0.18,"e":0.04},
{"p":"d","s":"100 wt% Ethanol","x":39.8,"y":0.3,"e":0.05},
{"p":"d","s":"100 wt% Ethanol","x":50.1,"y":0.45,"e":0.05},
{"p":"d","s":"100 wt% Ethanol","x":63.1,"y":0.68,"e":0.06},
{"p":"d","s":"100 wt% Ethanol","x":79.4,"y":1,"e":0.08},
{"p":"d","s":"100 wt% Ethanol","x":100,"y":1.55,"e":0.1},
{"p":"d","s":"100 wt% Ethanol","x":126,"y":2.2,"e":0.1},
{"p":"d","s":"100 wt% Ethanol","x":158,"y":3.3,"e":0.1},
{"p":"d","s":"100 wt% Ethanol","x":200,"y":5,"e":0.1},
{"p":"d","s":"100 wt% Ethanol","x":251,"y":6.8,"e":0.1},
{"p":"d","s":"100 wt% Ethanol","x":300,"y":7.7,"e":0.1},
{"p":"d","s":"100 wt% Ethanol","x":340,"y":7.9,"e":0.1},
{"p":"d","s":"100 wt% Ethanol","x":398,"y":7.6,"e":0.1},
{"p":"d","s":"100 wt% Ethanol","x":470,"y":6.9,"e":0.1},
{"p":"d","s":"100 wt% Ethanol","x":562,"y":5.3,"e":0.1},
{"p":"d","s":"100 wt% Ethanol","x":631,"y":4,"e":0.1},
{"p":"d","s":"100 wt% Ethanol","x":708,"y":2.4,"e":0.1},
{"p":"d","s":"100 wt% Ethanol","x":794,"y":1.3,"e":0.1},
{"p":"d","s":"100 wt% Ethanol","x":891,"y":0.3,"e":0.08},
{"p":"d","s":"100 wt% Ethanol","x":955,"y":0},
{"p":"d","s":"100 wt% Ethanol","x":2000,"y":0},
{"p":"d","s":"10 wt% Sodium Pyrophosphate and 10 wt% Methanol","x":0.1,"y":0},
{"p":"d","s":"10 wt% Sodium Pyrophosphate and 10 wt% Methanol","x":17.8,"y":0},
{"p":"d","s":"10 wt% Sodium Pyrophosphate and 10 wt% Methanol","x":20,"y":0.03,"e":0.03},
{"p":"d","s":"10 wt% Sodium Pyrophosphate and 10 wt% Methanol","x":25.1,"y":0.09,"e":0.04},
{"p":"d","s":"10 wt% Sodium Pyrophosphate and 10 wt% Methanol","x":31.6,"y":0.17,"e":0.05},
{"p":"d","s":"10 wt% Sodium Pyrophosphate and 10 wt% Methanol","x":39.8,"y":0.28,"e":0.06},
{"p":"d","s":"10 wt% Sodium Pyrophosphate and 10 wt% Methanol","x":50.1,"y":0.42,"e":0.07},
{"p":"d","s":"10 wt% Sodium Pyrophosphate and 10 wt% Methanol","x":63.1,"y":0.63,"e":0.08},
{"p":"d","s":"10 wt% Sodium Pyrophosphate and 10 wt% Methanol","x":79.4,"y":0.95,"e":0.1},
{"p":"d","s":"10 wt% Sodium Pyrophosphate and 10 wt% Methanol","x":100,"y":1.42,"e":0.12},
{"p":"d","s":"10 wt% Sodium Pyrophosphate and 10 wt% Methanol","x":126,"y":2.05,"e":0.15},
{"p":"d","s":"10 wt% Sodium Pyrophosphate and 10 wt% Methanol","x":158,"y":3.05,"e":0.15},
{"p":"d","s":"10 wt% Sodium Pyrophosphate and 10 wt% Methanol","x":200,"y":4.8,"e":0.2},
{"p":"d","s":"10 wt% Sodium Pyrophosphate and 10 wt% Methanol","x":251,"y":6.75,"e":0.2},
{"p":"d","s":"10 wt% Sodium Pyrophosphate and 10 wt% Methanol","x":300,"y":7.95,"e":0.25},
{"p":"d","s":"10 wt% Sodium Pyrophosphate and 10 wt% Methanol","x":350,"y":8.3,"e":0.25},
{"p":"d","s":"10 wt% Sodium Pyrophosphate and 10 wt% Methanol","x":398,"y":8.05,"e":0.25},
{"p":"d","s":"10 wt% Sodium Pyrophosphate and 10 wt% Methanol","x":470,"y":7.15,"e":0.25},
{"p":"d","s":"10 wt% Sodium Pyrophosphate and 10 wt% Methanol","x":562,"y":5.5,"e":0.2},
{"p":"d","s":"10 wt% Sodium Pyrophosphate and 10 wt% Methanol","x":631,"y":4.1,"e":0.2},
{"p":"d","s":"10 wt% Sodium Pyrophosphate and 10 wt% Methanol","x":708,"y":2.5,"e":0.2},
{"p":"d","s":"10 wt% Sodium Pyrophosphate and 10 wt% Methanol","x":794,"y":1.35,"e":0.15},
{"p":"d","s":"10 wt% Sodium Pyrophosphate and 10 wt% Methanol","x":891,"y":0.35,"e":0.1},
{"p":"d","s":"10 wt% Sodium Pyrophosphate and 10 wt% Methanol","x":955,"y":0.03},
{"p":"d","s":"10 wt% Sodium Pyrophosphate and 10 wt% Methanol","x":1000,"y":0},
{"p":"d","s":"10 wt% Sodium Pyrophosphate and 10 wt% Methanol","x":2000,"y":0},
{"p":"d","s":"0.001 wt% Triton X-100","x":0.1,"y":0},
{"p":"d","s":"0.001 wt% Triton X-100","x":17.8,"y":0},
{"p":"d","s":"0.001 wt% Triton X-100","x":20,"y":0.02,"e":0.02},
{"p":"d","s":"0.001 wt% Triton X-100","x":25.1,"y":0.08,"e":0.03},
{"p":"d","s":"0.001 wt% Triton X-100","x":31.6,"y":0.15,"e":0.04},
{"p":"d","s":"0.001 wt% Triton X-100","x":39.8,"y":0.26,"e":0.05},
{"p":"d","s":"0.001 wt% Triton X-100","x":50.1,"y":0.38,"e":0.05},
{"p":"d","s":"0.001 wt% Triton X-100","x":63.1,"y":0.57,"e":0.06},
{"p":"d","s":"0.001 wt% Triton X-100","x":79.4,"y":0.86,"e":0.07},
{"p":"d","s":"0.001 wt% Triton X-100","x":100,"y":1.3,"e":0.08},
{"p":"d","s":"0.001 wt% Triton X-100","x":126,"y":1.9,"e":0.1},
{"p":"d","s":"0.001 wt% Triton X-100","x":158,"y":2.85,"e":0.1},
{"p":"d","s":"0.001 wt% Triton X-100","x":200,"y":4.55,"e":0.12},
{"p":"d","s":"0.001 wt% Triton X-100","x":251,"y":6.55,"e":0.15},
{"p":"d","s":"0.001 wt% Triton X-100","x":300,"y":7.75,"e":0.15},
{"p":"d","s":"0.001 wt% Triton X-100","x":350,"y":8.05,"e":0.15},
{"p":"d","s":"0.001 wt% Triton X-100","x":398,"y":7.85,"e":0.15},
{"p":"d","s":"0.001 wt% Triton X-100","x":470,"y":7.05,"e":0.15},
{"p":"d","s":"0.001 wt% Triton X-100","x":562,"y":5.45,"e":0.15},
{"p":"d","s":"0.001 wt% Triton X-100","x":631,"y":4.1,"e":0.15},
{"p":"d","s":"0.001 wt% Triton X-100","x":708,"y":2.45,"e":0.12},
{"p":"d","s":"0.001 wt% Triton X-100","x":794,"y":1.4,"e":0.1},
{"p":"d","s":"0.001 wt% Triton X-100","x":891,"y":0.4,"e":0.08},
{"p":"d","s":"0.001 wt% Triton X-100","x":955,"y":0.05},
{"p":"d","s":"0.001 wt% Triton X-100","x":1000,"y":0},
{"p":"d","s":"0.001 wt% Triton X-100","x":2000,"y":0},
{"p":"d","s":"Water","x":0.1,"y":0},
{"p":"d","s":"Water","x":17.8,"y":0},
{"p":"d","s":"Water","x":20,"y":0.02,"e":0.02},
{"p":"d","s":"Water","x":25.1,"y":0.08,"e":0.03},
{"p":"d","s":"Water","x":31.6,"y":0.15,"e":0.04},
{"p":"d","s":"Water","x":39.8,"y":0.27,"e":0.04},
{"p":"d","s":"Water","x":50.1,"y":0.4,"e":0.05},
{"p":"d","s":"Water","x":63.1,"y":0.6,"e":0.06},
{"p":"d","s":"Water","x":79.4,"y":0.9,"e":0.07},
{"p":"d","s":"Water","x":100,"y":1.35,"e":0.08},
{"p":"d","s":"Water","x":126,"y":1.95,"e":0.08},
{"p":"d","s":"Water","x":158,"y":2.9,"e":0.1},
{"p":"d","s":"Water","x":200,"y":4.6,"e":0.1},
{"p":"d","s":"Water","x":251,"y":6.6,"e":0.1},
{"p":"d","s":"Water","x":300,"y":7.8,"e":0.1},
{"p":"d","s":"Water","x":350,"y":8.2,"e":0.1},
{"p":"d","s":"Water","x":398,"y":7.95,"e":0.1},
{"p":"d","s":"Water","x":470,"y":7.1,"e":0.1},
{"p":"d","s":"Water","x":562,"y":5.5,"e":0.1},
{"p":"d","s":"Water","x":631,"y":4.1,"e":0.1},
{"p":"d","s":"Water","x":708,"y":2.45,"e":0.1},
{"p":"d","s":"Water","x":794,"y":1.35,"e":0.1},
{"p":"d","s":"Water","x":891,"y":0.35,"e":0.08},
{"p":"d","s":"Water","x":955,"y":0.02},
{"p":"d","s":"Water","x":1000,"y":0},
{"p":"d","s":"Water","x":2000,"y":0}
]},
"concat": [
 {
  "title": {"text": "a"},
  "width": 430, "height": 315,
  "encoding": {
   "x": {"field": "x", "type": "quantitative", "scale": {"type": "log", "domain": [0.1, 2000], "nice": false},
     "axis": {"title": "Particle Diameter (µm)", "values": [0.1,0.2,0.3,0.4,0.5,0.6,0.7,0.8,0.9,1,2,3,4,5,6,7,8,9,10,20,30,40,50,60,70,80,90,100,200,300,400,500,600,700,800,900,1000,2000],
       "labelExpr": "indexof([0.1,1,10,100,1000,2000], datum.value) >= 0 ? '' + datum.value : ''",
       "tickSize": {"condition": {"test": "indexof([0.1,1,10,100,1000,2000], datum.value) >= 0", "value": 5}, "value": 3},
       "labelAlign": {"condition": {"test": "datum.value == 2000", "value": "left"}, "value": "center"},
       "labelOffset": {"condition": {"test": "datum.value == 2000", "value": -3}, "value": 0},
       "labelOverlap": false, "labelFlush": false, "labelBound": false, "titlePadding": 8}},
   "y": {"field": "y", "type": "quantitative", "scale": {"domain": [-1, 12], "nice": false, "zero": false},
     "axis": {"title": "Volume (%)", "values": [-1,0,1,2,3,4,5,6,7,8,9,10,11,12],
       "labelExpr": "datum.value % 2 == 0 && datum.value >= 0 ? datum.label : ''",
       "tickSize": {"condition": {"test": "datum.value % 2 == 0", "value": 5}, "value": 3},
       "labelOverlap": false, "titlePadding": -4}}
  },
  "layer": [
   {"transform": [{"filter": "false"}], "mark": {"type": "square", "filled": true},
    "encoding": {"fill": {"field": "s", "type": "nominal",
      "scale": {"domain": ["100 wt% Ethanol","75 wt% Ethanol","50 wt% Ethanol","40 wt% Ethanol","30 wt% Ethanol","20 wt% Ethanol","10 wt% Ethanol","Water"], "range": ["#e50000","#ff7f00","#ffe800","#00c000","#2bdcbc","#00bee6","#0062de","#0000bd"]},
      "legend": {"title": null, "orient": "none", "direction": "vertical", "legendX": 433, "legendY": 0, "symbolType": "M-1,-1H-0.1V1H-1Z", "symbolSize": 1560, "symbolStrokeWidth": 0, "symbolOpacity": 1, "rowPadding": 0, "labelOffset": -16, "labelFontSize": 18, "labelFont": "Liberation Serif", "labelColor": "#000", "labelLimit": 300, "padding": 0}}}},
   {"transform": [{"filter": "datum.p == 'a' && datum.e > 0"}], "mark": {"type": "errorbar", "ticks": true, "size": 6, "thickness": 1, "opacity": 0.5},
    "encoding": {"yError": {"field": "e"}, "color": {"field": "s", "type": "nominal", "legend": null,
      "scale": {"domain": ["100 wt% Ethanol","75 wt% Ethanol","50 wt% Ethanol","40 wt% Ethanol","30 wt% Ethanol","20 wt% Ethanol","10 wt% Ethanol","Water"], "range": ["#e50000","#ff7f00","#ffe800","#00c000","#2bdcbc","#00bee6","#0062de","#0000bd"]}}}},
   {"transform": [{"filter": "datum.p == 'a'"}], "mark": {"type": "line", "interpolate": "monotone", "strokeWidth": 2},
    "encoding": {"color": {"field": "s", "type": "nominal", "legend": null,
      "scale": {"domain": ["100 wt% Ethanol","75 wt% Ethanol","50 wt% Ethanol","40 wt% Ethanol","30 wt% Ethanol","20 wt% Ethanol","10 wt% Ethanol","Water"], "range": ["#e50000","#ff7f00","#ffe800","#00c000","#2bdcbc","#00bee6","#0062de","#0000bd"]}}}}
  ]
 },
 {
  "title": {"text": "b"},
  "width": 430, "height": 315,
  "encoding": {
   "x": {"field": "x", "type": "quantitative", "scale": {"type": "log", "domain": [0.1, 2000], "nice": false},
     "axis": {"title": "Particle Diameter (µm)", "values": [0.1,0.2,0.3,0.4,0.5,0.6,0.7,0.8,0.9,1,2,3,4,5,6,7,8,9,10,20,30,40,50,60,70,80,90,100,200,300,400,500,600,700,800,900,1000,2000],
       "labelExpr": "indexof([0.1,1,10,100,1000,2000], datum.value) >= 0 ? '' + datum.value : ''",
       "tickSize": {"condition": {"test": "indexof([0.1,1,10,100,1000,2000], datum.value) >= 0", "value": 5}, "value": 3},
       "labelAlign": {"condition": {"test": "datum.value == 2000", "value": "left"}, "value": "center"},
       "labelOffset": {"condition": {"test": "datum.value == 2000", "value": -3}, "value": 0},
       "labelOverlap": false, "labelFlush": false, "labelBound": false, "titlePadding": 8}},
   "y": {"field": "y", "type": "quantitative", "scale": {"domain": [-1, 12], "nice": false, "zero": false},
     "axis": {"title": "Volume (%)", "values": [-1,0,1,2,3,4,5,6,7,8,9,10,11,12],
       "labelExpr": "datum.value % 2 == 0 && datum.value >= 0 ? datum.label : ''",
       "tickSize": {"condition": {"test": "datum.value % 2 == 0", "value": 5}, "value": 3},
       "labelOverlap": false, "titlePadding": -4}}
  },
  "layer": [
   {"transform": [{"filter": "false"}], "mark": {"type": "square", "filled": true},
    "encoding": {"fill": {"field": "s", "type": "nominal",
      "scale": {"domain": ["100 wt% Ethanol","10 wt% Sodium Pyrophosphate and 10 wt% Methanol","0.001 wt% Triton X-100","Water"], "range": ["#e50000","#ffbfbf","#f9c466","#0000bd"]},
      "legend": {"title": null, "orient": "none", "direction": "vertical", "legendX": 433, "legendY": 0, "symbolType": "M-1,-1H-0.55V1H-1Z", "symbolSize": 6241, "symbolStrokeWidth": 0, "symbolOpacity": 1, "rowPadding": 0, "labelOffset": -55, "labelFontSize": 18, "labelFont": "Liberation Serif", "labelColor": "#000", "labelLimit": 300, "padding": 0,
        "labelExpr": "datum.value == '10 wt% Sodium Pyrophosphate and 10 wt% Methanol' ? ['10 wt% Sodium', 'Pyrophosphate and', '10 wt% Methanol'] : datum.value == '0.001 wt% Triton X-100' ? ['0.001 wt%', 'Triton X-100'] : datum.label",
        "encode": {"labels": {"update": {"lineHeight": {"value": 30}, "dy": {"signal": "datum.value == '10 wt% Sodium Pyrophosphate and 10 wt% Methanol' ? -30 : datum.value == '0.001 wt% Triton X-100' ? -15 : 0"}}}}}}}},
   {"transform": [{"filter": "datum.p == 'b' && datum.e > 0"}], "mark": {"type": "errorbar", "ticks": true, "size": 6, "thickness": 1, "opacity": 0.5},
    "encoding": {"yError": {"field": "e"}, "color": {"field": "s", "type": "nominal", "legend": null,
      "scale": {"domain": ["100 wt% Ethanol","10 wt% Sodium Pyrophosphate and 10 wt% Methanol","0.001 wt% Triton X-100","Water"], "range": ["#e50000","#ffbfbf","#f9c466","#0000bd"]}}}},
   {"transform": [{"filter": "datum.p == 'b'"}], "mark": {"type": "line", "interpolate": "monotone", "strokeWidth": 2},
    "encoding": {"color": {"field": "s", "type": "nominal", "legend": null,
      "scale": {"domain": ["100 wt% Ethanol","10 wt% Sodium Pyrophosphate and 10 wt% Methanol","0.001 wt% Triton X-100","Water"], "range": ["#e50000","#ffbfbf","#f9c466","#0000bd"]}}}}
  ]
 },
 {
  "title": {"text": "c"},
  "width": 430, "height": 315,
  "encoding": {
   "x": {"field": "x", "type": "quantitative", "scale": {"type": "log", "domain": [0.1, 2000], "nice": false},
     "axis": {"title": "Particle Diameter (µm)", "values": [0.1,0.2,0.3,0.4,0.5,0.6,0.7,0.8,0.9,1,2,3,4,5,6,7,8,9,10,20,30,40,50,60,70,80,90,100,200,300,400,500,600,700,800,900,1000,2000],
       "labelExpr": "indexof([0.1,1,10,100,1000,2000], datum.value) >= 0 ? '' + datum.value : ''",
       "tickSize": {"condition": {"test": "indexof([0.1,1,10,100,1000,2000], datum.value) >= 0", "value": 5}, "value": 3},
       "labelAlign": {"condition": {"test": "datum.value == 2000", "value": "left"}, "value": "center"},
       "labelOffset": {"condition": {"test": "datum.value == 2000", "value": -3}, "value": 0},
       "labelOverlap": false, "labelFlush": false, "labelBound": false, "titlePadding": 8}},
   "y": {"field": "y", "type": "quantitative", "scale": {"domain": [-1, 12], "nice": false, "zero": false},
     "axis": {"title": "Volume (%)", "values": [-1,0,1,2,3,4,5,6,7,8,9,10,11,12],
       "labelExpr": "datum.value % 2 == 0 && datum.value >= 0 ? datum.label : ''",
       "tickSize": {"condition": {"test": "datum.value % 2 == 0", "value": 5}, "value": 3},
       "labelOverlap": false, "titlePadding": -4}}
  },
  "layer": [
   {"transform": [{"filter": "false"}], "mark": {"type": "square", "filled": true},
    "encoding": {"fill": {"field": "s", "type": "nominal",
      "scale": {"domain": ["100 wt% Ethanol","10 wt% Sodium Pyrophosphate and 10 wt% Methanol","0.001 wt% Triton X-100","Water"], "range": ["#e50000","#ffbfbf","#f9c466","#0000bd"]},
      "legend": {"title": null, "orient": "none", "direction": "vertical", "legendX": 433, "legendY": 0, "symbolType": "M-1,-1H-0.55V1H-1Z", "symbolSize": 6241, "symbolStrokeWidth": 0, "symbolOpacity": 1, "rowPadding": 0, "labelOffset": -55, "labelFontSize": 18, "labelFont": "Liberation Serif", "labelColor": "#000", "labelLimit": 300, "padding": 0,
        "labelExpr": "datum.value == '10 wt% Sodium Pyrophosphate and 10 wt% Methanol' ? ['10 wt% Sodium', 'Pyrophosphate and', '10 wt% Methanol'] : datum.value == '0.001 wt% Triton X-100' ? ['0.001 wt%', 'Triton X-100'] : datum.label",
        "encode": {"labels": {"update": {"lineHeight": {"value": 30}, "dy": {"signal": "datum.value == '10 wt% Sodium Pyrophosphate and 10 wt% Methanol' ? -30 : datum.value == '0.001 wt% Triton X-100' ? -15 : 0"}}}}}}}},
   {"transform": [{"filter": "datum.p == 'c' && datum.e > 0"}], "mark": {"type": "errorbar", "ticks": true, "size": 6, "thickness": 1, "opacity": 0.5},
    "encoding": {"yError": {"field": "e"}, "color": {"field": "s", "type": "nominal", "legend": null,
      "scale": {"domain": ["100 wt% Ethanol","10 wt% Sodium Pyrophosphate and 10 wt% Methanol","0.001 wt% Triton X-100","Water"], "range": ["#e50000","#ffbfbf","#f9c466","#0000bd"]}}}},
   {"transform": [{"filter": "datum.p == 'c'"}], "mark": {"type": "line", "interpolate": "monotone", "strokeWidth": 2},
    "encoding": {"color": {"field": "s", "type": "nominal", "legend": null,
      "scale": {"domain": ["100 wt% Ethanol","10 wt% Sodium Pyrophosphate and 10 wt% Methanol","0.001 wt% Triton X-100","Water"], "range": ["#e50000","#ffbfbf","#f9c466","#0000bd"]}}}}
  ]
 },
 {
  "title": {"text": "d"},
  "width": 430, "height": 315,
  "encoding": {
   "x": {"field": "x", "type": "quantitative", "scale": {"type": "log", "domain": [0.1, 2000], "nice": false},
     "axis": {"title": "Particle Diameter (µm)", "values": [0.1,0.2,0.3,0.4,0.5,0.6,0.7,0.8,0.9,1,2,3,4,5,6,7,8,9,10,20,30,40,50,60,70,80,90,100,200,300,400,500,600,700,800,900,1000,2000],
       "labelExpr": "indexof([0.1,1,10,100,1000,2000], datum.value) >= 0 ? '' + datum.value : ''",
       "tickSize": {"condition": {"test": "indexof([0.1,1,10,100,1000,2000], datum.value) >= 0", "value": 5}, "value": 3},
       "labelAlign": {"condition": {"test": "datum.value == 2000", "value": "left"}, "value": "center"},
       "labelOffset": {"condition": {"test": "datum.value == 2000", "value": -3}, "value": 0},
       "labelOverlap": false, "labelFlush": false, "labelBound": false, "titlePadding": 8}},
   "y": {"field": "y", "type": "quantitative", "scale": {"domain": [-1, 12], "nice": false, "zero": false},
     "axis": {"title": "Volume (%)", "values": [-1,0,1,2,3,4,5,6,7,8,9,10,11,12],
       "labelExpr": "datum.value % 2 == 0 && datum.value >= 0 ? datum.label : ''",
       "tickSize": {"condition": {"test": "datum.value % 2 == 0", "value": 5}, "value": 3},
       "labelOverlap": false, "titlePadding": -4}}
  },
  "layer": [
   {"transform": [{"filter": "false"}], "mark": {"type": "square", "filled": true},
    "encoding": {"fill": {"field": "s", "type": "nominal",
      "scale": {"domain": ["100 wt% Ethanol","10 wt% Sodium Pyrophosphate and 10 wt% Methanol","0.001 wt% Triton X-100","Water"], "range": ["#e50000","#ffbfbf","#f9c466","#0000bd"]},
      "legend": {"title": null, "orient": "none", "direction": "vertical", "legendX": 433, "legendY": 0, "symbolType": "M-1,-1H-0.55V1H-1Z", "symbolSize": 6241, "symbolStrokeWidth": 0, "symbolOpacity": 1, "rowPadding": 0, "labelOffset": -55, "labelFontSize": 18, "labelFont": "Liberation Serif", "labelColor": "#000", "labelLimit": 300, "padding": 0,
        "labelExpr": "datum.value == '10 wt% Sodium Pyrophosphate and 10 wt% Methanol' ? ['10 wt% Sodium', 'Pyrophosphate and', '10 wt% Methanol'] : datum.value == '0.001 wt% Triton X-100' ? ['0.001 wt%', 'Triton X-100'] : datum.label",
        "encode": {"labels": {"update": {"lineHeight": {"value": 30}, "dy": {"signal": "datum.value == '10 wt% Sodium Pyrophosphate and 10 wt% Methanol' ? -30 : datum.value == '0.001 wt% Triton X-100' ? -15 : 0"}}}}}}}},
   {"transform": [{"filter": "datum.p == 'd' && datum.e > 0"}], "mark": {"type": "errorbar", "ticks": true, "size": 6, "thickness": 1, "opacity": 0.5},
    "encoding": {"yError": {"field": "e"}, "color": {"field": "s", "type": "nominal", "legend": null,
      "scale": {"domain": ["100 wt% Ethanol","10 wt% Sodium Pyrophosphate and 10 wt% Methanol","0.001 wt% Triton X-100","Water"], "range": ["#e50000","#ffbfbf","#f9c466","#0000bd"]}}}},
   {"transform": [{"filter": "datum.p == 'd'"}], "mark": {"type": "line", "interpolate": "monotone", "strokeWidth": 2},
    "encoding": {"color": {"field": "s", "type": "nominal", "legend": null,
      "scale": {"domain": ["100 wt% Ethanol","10 wt% Sodium Pyrophosphate and 10 wt% Methanol","0.001 wt% Triton X-100","Water"], "range": ["#e50000","#ffbfbf","#f9c466","#0000bd"]}}}}
  ]
 }
]
}
